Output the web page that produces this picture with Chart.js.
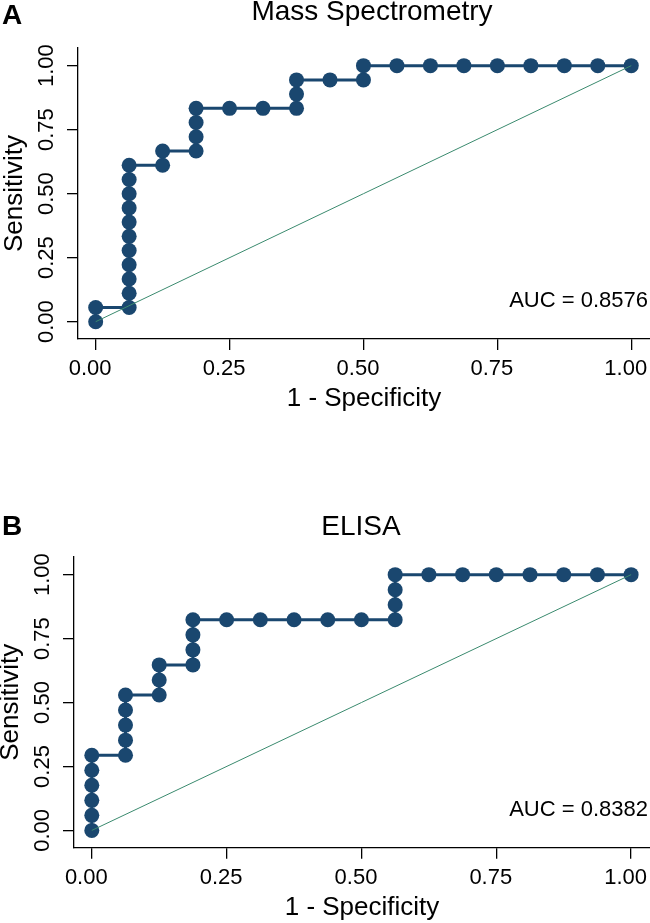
<!DOCTYPE html>
<html>
<head>
<meta charset="utf-8">
<title>ROC curves</title>
<script src="https://cdn.jsdelivr.net/npm/chart.js@4.4.1/dist/chart.umd.min.js"></script>
<style>
  html, body { margin: 0; padding: 0; background: #fff; }
  canvas { display: block; }
</style>
</head>
<body>
<canvas id="msChart" width="650" height="460"></canvas>
<canvas id="elisaChart" width="650" height="463"></canvas>
<script>
// ROC points (1 - specificity, sensitivity)
const msFpr = [0, 0, 0.0625, 0.0625, 0.0625, 0.0625, 0.0625, 0.0625, 0.0625, 0.0625, 0.0625, 0.0625, 0.0625,
  0.125, 0.125, 0.1875, 0.1875, 0.1875, 0.1875, 0.25, 0.3125, 0.375, 0.375, 0.375, 0.4375, 0.5, 0.5,
  0.5625, 0.625, 0.6875, 0.75, 0.8125, 0.875, 0.9375, 1];
const msTpr = [0, 0.0556, 0.0556, 0.1111, 0.1667, 0.2222, 0.2778, 0.3333, 0.3889, 0.4444, 0.5, 0.5556, 0.6111,
  0.6111, 0.6667, 0.6667, 0.7222, 0.7778, 0.8333, 0.8333, 0.8333, 0.8333, 0.8889, 0.9444, 0.9444, 0.9444, 1,
  1, 1, 1, 1, 1, 1, 1, 1];

const elisaFpr = [0, 0, 0, 0, 0, 0, 0.0625, 0.0625, 0.0625, 0.0625, 0.0625, 0.125, 0.125, 0.125,
  0.1875, 0.1875, 0.1875, 0.1875, 0.25, 0.3125, 0.375, 0.4375, 0.5, 0.5625, 0.5625, 0.5625, 0.5625,
  0.625, 0.6875, 0.75, 0.8125, 0.875, 0.9375, 1];
const elisaTpr = [0, 0.0588, 0.1176, 0.1765, 0.2353, 0.2941, 0.2941, 0.3529, 0.4118, 0.4706, 0.5294, 0.5294, 0.5882, 0.6471,
  0.6471, 0.7059, 0.7647, 0.8235, 0.8235, 0.8235, 0.8235, 0.8235, 0.8235, 0.8235, 0.8824, 0.9412, 1,
  1, 1, 1, 1, 1, 1, 1];

const refLine = [0, 1];
const tickVals = [0, 0.25, 0.5, 0.75, 1];
const aucMs = 0.8576;
const aucElisa = 0.8382;

const FONT = '"Liberation Sans", Arial, Helvetica, sans-serif';
const NAVY = '#1a476f';
const GREEN = '#3a8a6e';

// titles, panel letters and AUC note
const panelText = {
  id: 'panelText',
  afterDraw(chart, args, o) {
    const { ctx, chartArea } = chart;
    ctx.save();
    ctx.fillStyle = '#000';
    ctx.textBaseline = 'middle';
    ctx.textAlign = 'left';
    ctx.font = 'bold 28px ' + FONT;
    ctx.fillText(o.letter, 2, o.letterY);
    ctx.textAlign = 'center';
    ctx.font = '28px ' + FONT;
    ctx.fillText(o.title, o.titleX, o.titleY);
    ctx.textAlign = 'right';
    ctx.font = '22px ' + FONT;
    ctx.fillText('AUC = ' + o.auc.toFixed(4), chartArea.right - 2, chartArea.bottom - 38);
    ctx.restore();
  }
};

const makeRoc = (id, fpr, tpr, auc, L) => {
  const pts = fpr.map((x, i) => ({ x: x, y: tpr[i] }));
  const diag = refLine.map(v => ({ x: v, y: v }));
  const ctx = document.getElementById(id).getContext('2d');
  return new Chart(ctx, {
    type: 'line',
    data: {
      datasets: [
        { data: diag, borderColor: GREEN, borderWidth: 1, pointRadius: 0, order: 0 },
        { data: pts, borderColor: NAVY, borderWidth: 3, pointRadius: 7.5, pointHoverRadius: 7.5,
          pointBackgroundColor: NAVY, pointBorderWidth: 0, order: 1 }
      ]
    },
    options: {
      responsive: false,
      animation: false,
      events: [],
      clip: false,
      layout: { autoPadding: false, padding: { left: L.padLeft, top: L.padTop, right: 0, bottom: 0 } },
      plugins: {
        legend: { display: false },
        tooltip: { enabled: false },
        panelText: L.text
      },
      scales: {
        x: {
          type: 'linear', min: -0.033, max: 1.035,
          afterBuildTicks: s => { s.ticks = tickVals.map(v => ({ value: v })); },
          afterFit: s => { s.height = L.xAxisH; s.paddingLeft = 0; s.paddingRight = 0; },
          grid: { drawOnChartArea: false, drawTicks: true, tickLength: 11, color: '#000', lineWidth: 1.3 },
          border: { display: true, color: '#000', width: 1.3 },
          ticks: { padding: 0, labelOffset: -5.5, color: '#000', maxRotation: 0, autoSkip: false,
            font: { family: FONT, size: 22, lineHeight: 1.72 },
            callback: v => v.toFixed(2) },
          title: { display: true, text: '1 - Specificity', color: '#000',
            font: { family: FONT, size: 26, lineHeight: 0.8 }, padding: { top: 0, bottom: L.xTitlePad } }
        },
        y: {
          type: 'linear', min: -0.0676, max: 1.069,
          afterBuildTicks: s => { s.ticks = tickVals.map(v => ({ value: v })); },
          afterFit: s => { s.width = 74; s.paddingTop = 0; s.paddingBottom = 0; },
          grid: { drawOnChartArea: false, drawTicks: true, tickLength: 11, color: '#000', lineWidth: 1.3 },
          border: { display: true, color: '#000', width: 1.3 },
          ticks: { padding: -1, color: '#000', minRotation: 90, maxRotation: 90, crossAlign: 'center', autoSkip: false,
            font: { family: FONT, size: 22, lineHeight: 1 },
            callback: v => v.toFixed(2) },
          title: { display: true, text: 'Sensitivity', color: '#000',
            font: { family: FONT, size: 26, lineHeight: 0.8 }, padding: { top: 0, bottom: 0 } }
        }
      }
    },
    plugins: [panelText]
  });
};

makeRoc('msChart', msFpr, msTpr, aucMs, {
  padLeft: 4, padTop: 48, xAxisH: 121, xTitlePad: 51,
  text: { letter: 'A', letterY: 16.5, title: 'Mass Spectrometry', titleX: 372, titleY: 12.5, auc: aucMs }
});

makeRoc('elisaChart', elisaFpr, elisaTpr, aucElisa, {
  padLeft: 0, padTop: 97, xAxisH: 75.3, xTitlePad: 4.3,
  text: { letter: 'B', letterY: 67.5, title: 'ELISA', titleX: 361, titleY: 67.5, auc: aucElisa }
});
</script>
</body>
</html>
